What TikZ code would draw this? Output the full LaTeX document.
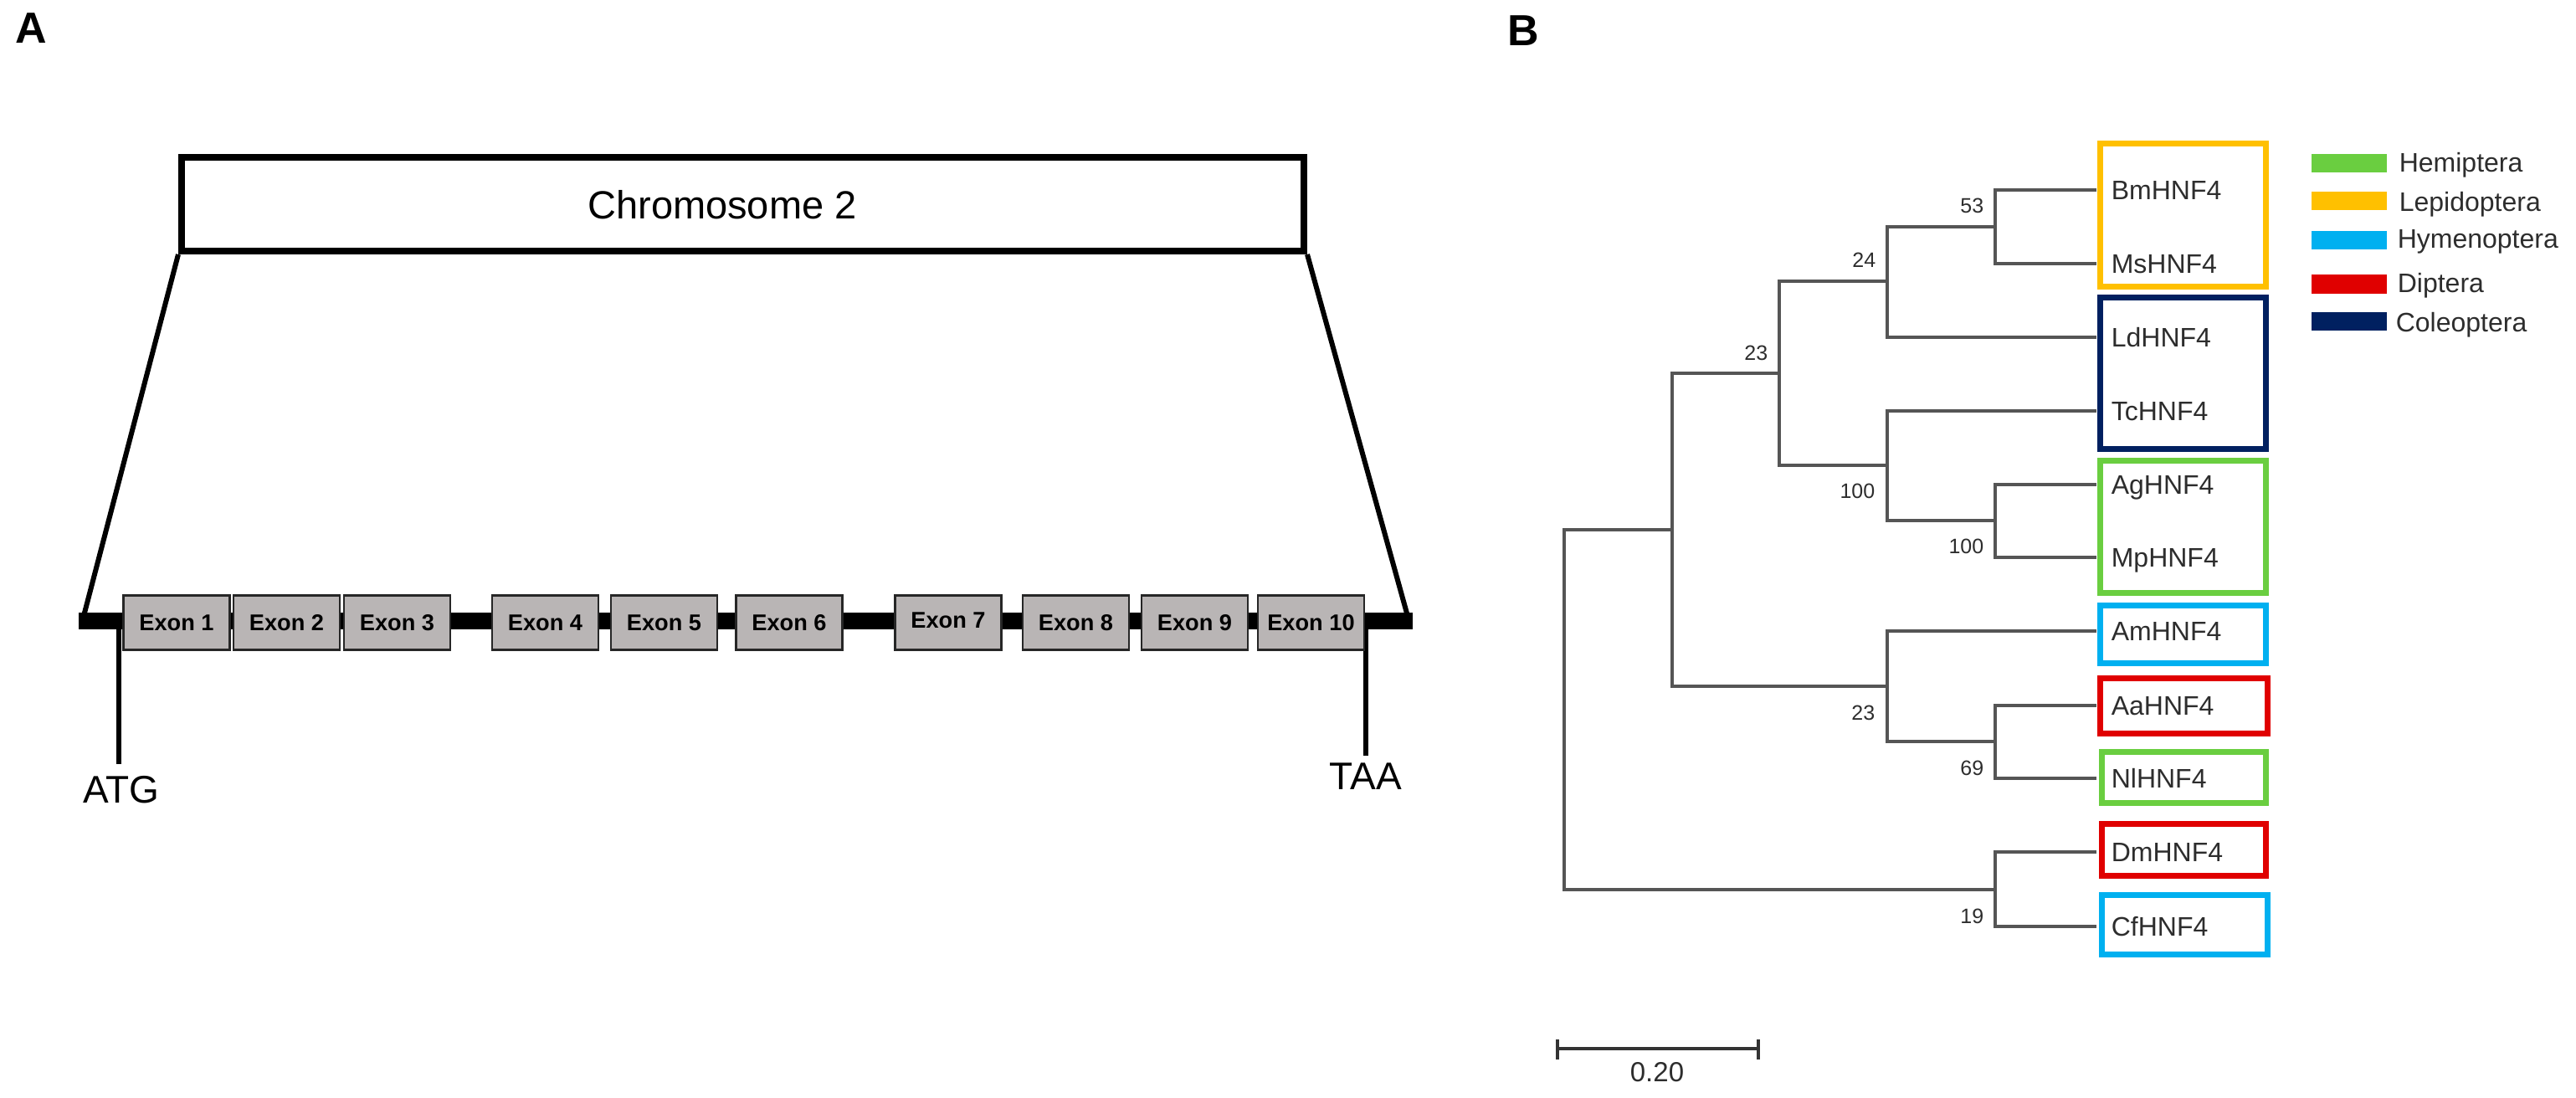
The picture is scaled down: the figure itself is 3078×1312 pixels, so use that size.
\documentclass[tikz,border=0pt]{standalone}
\usepackage{fontspec}
\setmainfont{Liberation Sans}
\definecolor{hemi}{RGB}{106,206,64}
\definecolor{lepi}{RGB}{255,192,0}
\definecolor{hyme}{RGB}{0,176,240}
\definecolor{dipt}{RGB}{224,0,0}
\definecolor{cole}{RGB}{0,32,96}
\definecolor{exong}{RGB}{185,181,181}
\definecolor{treeg}{RGB}{85,85,85}
\definecolor{txtg}{RGB}{45,45,45}
\begin{document}
\begin{tikzpicture}[x={(0.25pt,0)},y={(0,-0.25pt)},
  panel/.style={font=\fontsize{13pt}{15pt}\selectfont\bfseries, inner sep=0},
  chrbox/.style={draw=black, line width=2pt, minimum width=335.25pt, minimum height=28pt, inner sep=0},
  barline/.style={line width=5pt},
  trap/.style={line width=1.5pt},
  ticker/.style={line width=1.6pt},
  exon/.style={draw=black!85, fill=exong, line width=0.7pt, minimum width=31.75pt, minimum height=16.25pt, inner sep=0,
    font=\fontsize{6.8pt}{7pt}\selectfont\bfseries},
  bigtxt/.style={font=\fontsize{11.5pt}{13pt}\selectfont, inner sep=0},
  branch/.style={draw=treeg, line width=0.8pt},
  boot/.style={font=\fontsize{6.25pt}{7pt}\selectfont, text=txtg, inner sep=0, anchor=east},
  leaf/.style={font=\fontsize{8pt}{9pt}\selectfont, text=txtg, inner sep=0, anchor=base west},
  cbox/.style={line width=1.75pt},
  legtxt/.style={font=\fontsize{8pt}{9pt}\selectfont, text=txtg, inner sep=0, anchor=west},
]
\useasboundingbox (0,0) rectangle (3078,1312);

% ---------------- Panel A ----------------
\node[panel] (lblA) at (37,34) {A};
\node[chrbox] (chr) at (887.5,244) {};
\node[font=\fontsize{11.75pt}{13pt}\selectfont, inner sep=0] (chrtxt) at (863,245) {Chromosome 2};

\coordinate (barL) at (94,742);
\coordinate (barR) at (1688,742);
\coordinate (trapL) at (99,740);
\coordinate (trapR) at (1683,740);
\draw[trap] (chr.south west) -- (trapL);
\draw[trap] (chr.south east) -- (trapR);
\draw[barline] (barL) -- (barR);

\coordinate (atgtop) at (142,742);
\coordinate (taatop) at (1632,742);
\coordinate (atgbot) at (142,913);
\coordinate (taabot) at (1632,903);
\draw[ticker] (atgtop) -- (atgbot);
\draw[ticker] (taatop) -- (taabot);
\node[bigtxt] (atg) at (145,944) {ATG};
\node[bigtxt] (taa) at (1632,928) {TAA};

\node[exon] (e1) at (211,744) {Exon 1};
\node[exon] (e2) at (342.5,744) {Exon 2};
\node[exon] (e3) at (474.5,744) {Exon 3};
\node[exon] (e4) at (651.5,744) {\raisebox{-1.2pt}{Exon 4}};
\node[exon] (e5) at (793.5,744) {Exon 5};
\node[exon] (e6) at (943,744) {Exon 6};
\node[exon] (e7) at (1133,744) {\raisebox{1.2pt}{Exon 7}};
\node[exon] (e8) at (1285.5,744) {\raisebox{-1.2pt}{Exon 8}};
\node[exon] (e9) at (1427.5,744) {Exon 9};
\node[exon] (e10) at (1566.5,744) {\raisebox{-1.2pt}{Exon 10}};

% ---------------- Panel B ----------------
\node[panel] (lblB) at (1820,37) {B};

% internal nodes
\coordinate (r) at (1869,848);
\coordinate (na) at (1998,633);
\coordinate (nb) at (2126,446);
\coordinate (nc) at (2255,820);
\coordinate (nd) at (2255,336);
\coordinate (ne) at (2384,271);
\coordinate (nf) at (2255,556);
\coordinate (ng) at (2384,622);
\coordinate (nh) at (2384,886);
\coordinate (ni) at (2384,1063);
% leaves
\coordinate (Bm) at (2505,227);
\coordinate (Ms) at (2505,315);
\coordinate (Ld) at (2505,403);
\coordinate (Tc) at (2505,491);
\coordinate (Ag) at (2505,579);
\coordinate (Mp) at (2505,666);
\coordinate (Am) at (2505,754);
\coordinate (Aa) at (2505,843);
\coordinate (Nl) at (2505,930);
\coordinate (Dm) at (2505,1018);
\coordinate (Cf) at (2505,1107);

\draw[branch] (r) |- (na);
\draw[branch] (r) |- (ni);
\draw[branch] (na) |- (nb);
\draw[branch] (na) |- (nc);
\draw[branch] (nb) |- (nd);
\draw[branch] (nb) |- (nf);
\draw[branch] (nd) |- (ne);
\draw[branch] (nd) |- (Ld);
\draw[branch] (ne) |- (Bm);
\draw[branch] (ne) |- (Ms);
\draw[branch] (nf) |- (Tc);
\draw[branch] (nf) |- (ng);
\draw[branch] (ng) |- (Ag);
\draw[branch] (ng) |- (Mp);
\draw[branch] (nc) |- (Am);
\draw[branch] (nc) |- (nh);
\draw[branch] (nh) |- (Aa);
\draw[branch] (nh) |- (Nl);
\draw[branch] (ni) |- (Dm);
\draw[branch] (ni) |- (Cf);

% bootstrap values
\node[boot] (b53) at (2371,246) {53};
\node[boot] (b24) at (2242,311) {24};
\node[boot] (b23a) at (2113,422) {23};
\node[boot] (b100a) at (2241,587) {100};
\node[boot] (b100b) at (2371,653) {100};
\node[boot] (b23b) at (2241,852) {23};
\node[boot] (b69) at (2371,918) {69};
\node[boot] (b19) at (2371,1095) {19};

% coloured boxes
\draw[cbox, lepi] (2509,172) rectangle (2707,343);
\draw[cbox, cole] (2509,356) rectangle (2707,537);
\draw[cbox, hemi] (2509,551) rectangle (2707,709);
\draw[cbox, hyme] (2509,724) rectangle (2707,793);
\draw[cbox, dipt] (2509,811) rectangle (2709,877);
\draw[cbox, hemi] (2511,899) rectangle (2707,960);
\draw[cbox, dipt] (2511,985) rectangle (2707,1047);
\draw[cbox, hyme] (2511,1070) rectangle (2709,1141);

% leaf labels
\node[leaf] (tBm) at (2522,238.5) {BmHNF4};
\node[leaf] (tMs) at (2522,326.5) {MsHNF4};
\node[leaf] (tLd) at (2522,414.5) {LdHNF4};
\node[leaf] (tTc) at (2522,502.5) {TcHNF4};
\node[leaf] (tAg) at (2522,590.5) {AgHNF4};
\node[leaf] (tMp) at (2522,677.5) {MpHNF4};
\node[leaf] (tAm) at (2522,765.5) {AmHNF4};
\node[leaf] (tAa) at (2522,854.5) {AaHNF4};
\node[leaf] (tNl) at (2522,941.5) {NlHNF4};
\node[leaf] (tDm) at (2522,1029.5) {DmHNF4};
\node[leaf] (tCf) at (2522,1118.5) {CfHNF4};

% legend
\fill[hemi] (2762,184) rectangle (2852,206);
\fill[lepi] (2762,229) rectangle (2852,251);
\fill[hyme] (2762,276) rectangle (2852,298);
\fill[dipt] (2762,328) rectangle (2852,351);
\fill[cole] (2762,373) rectangle (2852,395);
\node[legtxt] (lg1) at (2866,197) {Hemiptera};
\node[legtxt] (lg2) at (2866,244) {Lepidoptera};
\node[legtxt] (lg3) at (2864,289) {Hymenoptera};
\node[legtxt] (lg4) at (2864,341) {Diptera};
\node[legtxt] (lg5) at (2862,388) {Coleoptera};

% scale bar
\coordinate (sbl) at (1861,1253);
\coordinate (sbr) at (2101,1253);
\coordinate (sblt) at (1861,1242);
\coordinate (sblb) at (1861,1266);
\coordinate (sbrt) at (2101,1242);
\coordinate (sbrb) at (2101,1266);
\draw[line width=0.8pt, black!80] (sbl) -- (sbr);
\draw[line width=0.8pt, black!80] (sblt) -- (sblb);
\draw[line width=0.8pt, black!80] (sbrt) -- (sbrb);
\node[font=\fontsize{8.25pt}{9pt}\selectfont, text=txtg, inner sep=0] (sblbl) at (1980,1281) {0.20};
\end{tikzpicture}
\end{document}
